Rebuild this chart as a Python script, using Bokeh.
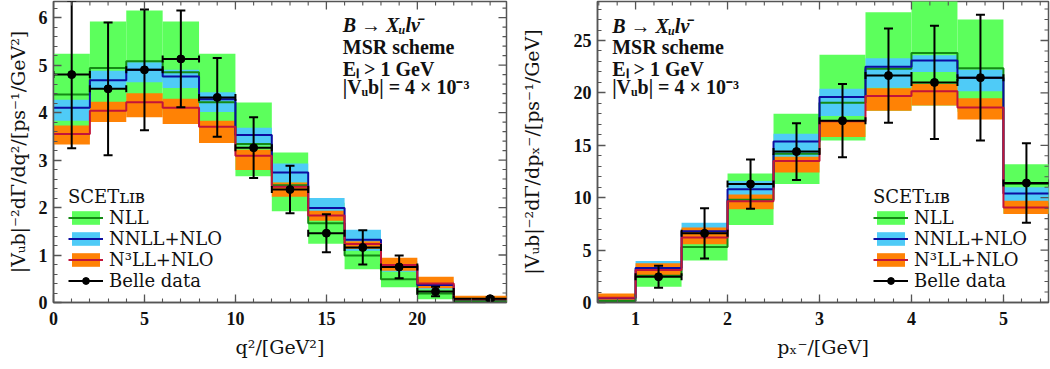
from bokeh.plotting import figure
from bokeh.layouts import row
from bokeh.models import (Range1d, LinearAxis, Legend, LegendItem, Label,
                          ColumnDataSource, SingleIntervalTicker)
from bokeh.embed import file_html
from bokeh.resources import INLINE
import math

# ---------------- data: q^2 spectrum ----------------
q2_edges = [0, 2, 4, 6, 8, 10, 12, 14, 16, 18, 20, 22, 26]
q2_nll_c = [4.38, 4.94, 5.08, 4.85, 4.22, 3.34, 2.47, 1.67, 0.99, 0.49, 0.19, 0.03]
q2_nll_lo = [3.45, 3.95, 4.05, 3.95, 3.40, 2.66, 1.92, 1.24, 0.70, 0.32, 0.07, 0.00]
q2_nll_hi = [5.24, 5.92, 6.15, 5.92, 5.24, 4.21, 3.16, 2.10, 1.30, 0.70, 0.32, 0.08]
q2_nnll_c = [4.10, 4.68, 4.90, 4.76, 4.28, 3.53, 2.74, 1.99, 1.32, 0.77, 0.37, 0.07]
q2_nnll_lo = [3.83, 4.50, 4.64, 4.52, 4.01, 3.31, 2.53, 1.75, 1.09, 0.65, 0.28, 0.03]
q2_nnll_hi = [4.27, 4.88, 5.06, 4.90, 4.43, 3.68, 2.93, 2.20, 1.53, 0.87, 0.45, 0.10]
q2_n3ll_c = [3.55, 4.04, 4.22, 4.10, 3.70, 3.09, 2.44, 1.83, 1.23, 0.79, 0.40, 0.07]
q2_n3ll_lo = [3.33, 3.80, 3.90, 3.76, 3.36, 2.79, 2.23, 1.72, 1.13, 0.67, 0.30, 0.02]
q2_n3ll_hi = [3.73, 4.23, 4.41, 4.29, 3.83, 3.22, 2.53, 1.93, 1.29, 0.94, 0.54, 0.14]
belle_q2_x = [1, 3, 5, 7, 9, 11, 13, 15, 17, 19, 21, 24]
belle_q2_xerr = [1, 1, 1, 1, 1, 1, 1, 1, 1, 1, 1, 2]
belle_q2_y = [4.80, 4.50, 4.90, 5.13, 4.32, 3.26, 2.38, 1.46, 1.16, 0.75, 0.23, 0.08]
belle_q2_err = [1.55, 1.40, 1.27, 1.02, 0.83, 0.64, 0.50, 0.40, 0.36, 0.24, 0.10, 0.03]

# ---------------- data: pX^- spectrum ----------------
px_edges = [0.5, 1.0, 1.5, 2.0, 2.5, 3.0, 3.5, 4.0, 4.5, 5.0, 5.5]
px_nll_c = [0.15, 2.55, 5.3, 9.8, 14.2, 19.05, 22.3, 23.8, 22.35, 11.3]
px_nll_lo = [0.0, 1.5, 4.0, 7.4, 11.3, 15.45, 18.3, 18.8, 18.2, 8.5]
px_nll_hi = [0.5, 3.4, 7.05, 12.3, 18.0, 23.65, 27.7, 29.5, 27.0, 13.2]
px_nnll_c = [0.4, 3.3, 6.8, 10.8, 15.35, 19.6, 22.5, 23.1, 21.45, 10.4]
px_nnll_lo = [0.2, 2.7, 5.9, 10.0, 13.9, 17.8, 20.5, 22.0, 20.15, 9.55]
px_nnll_hi = [0.7, 3.95, 7.6, 11.6, 16.1, 20.4, 23.3, 23.6, 22.2, 11.0]
px_n3ll_c = [0.45, 3.1, 6.2, 9.65, 13.5, 17.3, 19.7, 20.15, 18.6, 9.07]
px_n3ll_lo = [0.25, 2.6, 5.55, 8.9, 12.4, 15.8, 18.3, 18.8, 17.45, 8.45]
px_n3ll_hi = [0.85, 3.75, 7.15, 10.3, 13.9, 17.4, 20.45, 20.85, 19.5, 9.7]
belle_px_x = [1.25, 1.75, 2.25, 2.75, 3.25, 3.75, 4.25, 4.75, 5.25]
belle_px_xerr = [0.25] * 9
belle_px_y = [2.45, 6.6, 11.3, 14.4, 17.35, 21.65, 21.0, 21.45, 11.4]
belle_px_err = [1.05, 2.4, 2.35, 2.7, 3.5, 4.5, 5.4, 6.0, 3.8]

GREEN_BAND, BLUE_BAND, ORANGE_BAND = "#5cff5c", "#4fcbf7", "#ff8205"
GREEN_LINE, BLUE_LINE, RED_LINE = "#158a15", "#0d0da0", "#c2143a"
AX_COL = "#555555"
SERIF = "Liberation Serif"
LABEL_FONT = "DejaVu Serif"


def style_axis(ax):
    ax.major_tick_in = 8
    ax.major_tick_out = 0
    ax.minor_tick_in = 4
    ax.minor_tick_out = 0
    ax.axis_line_color = AX_COL
    ax.axis_line_width = 1.5
    ax.major_tick_line_color = AX_COL
    ax.minor_tick_line_color = AX_COL
    ax.major_tick_line_width = 1.3
    ax.minor_tick_line_width = 1.1
    ax.major_label_text_font = SERIF
    ax.major_label_text_font_style = "bold"
    ax.major_label_text_font_size = "18px"
    ax.major_label_text_color = "#111111"
    ax.major_label_standoff = 9
    ax.axis_label_text_font = LABEL_FONT
    ax.axis_label_text_font_style = "normal"
    ax.axis_label_text_font_size = "19px"
    ax.axis_label_text_color = "#111111"


def tick_values(lo, hi, step):
    n0 = int(math.ceil(lo / step - 1e-9))
    n1 = int(math.floor(hi / step + 1e-9))
    return [round(k * step, 6) for k in range(n0, n1 + 1)]


def mirror_ticks(p, xr, yr, xint, yint):
    xmaj = tick_values(xr[0], xr[1], xint)
    xmin = [v for v in tick_values(xr[0], xr[1], xint / 5) if v not in xmaj]
    ymaj = tick_values(yr[0], yr[1], yint)
    ymin = [v for v in tick_values(yr[0], yr[1], yint / 5) if v not in ymaj]
    # top edge ticks (vertical dashes centred on the edge; outer half clipped)
    p.scatter(x=xmaj, y=[yr[1]] * len(xmaj), marker="dash", size=16, angle=math.pi / 2,
              line_color=AX_COL, line_width=1.3)
    p.scatter(x=xmin, y=[yr[1]] * len(xmin), marker="dash", size=8, angle=math.pi / 2,
              line_color=AX_COL, line_width=1.1)
    # right edge ticks
    p.scatter(x=[xr[1]] * len(ymaj), y=ymaj, marker="dash", size=16,
              line_color=AX_COL, line_width=1.3)
    p.scatter(x=[xr[1]] * len(ymin), y=ymin, marker="dash", size=8,
              line_color=AX_COL, line_width=1.1)


def make_panel(edges, bands, bx, bxerr, by, byerr, xr, yr, xint, yint,
               xlabel, ylabel, ylab_standoff, width, bl, br, legend_xy,
               ann_x, ann_y):
    p = figure(width=width, height=369, x_range=Range1d(*xr), y_range=Range1d(*yr),
               output_backend="svg", toolbar_location=None,
               min_border_left=bl, min_border_right=br, min_border_top=1,
               min_border_bottom=67, x_axis_location=None, y_axis_location=None)
    p.xgrid.visible = False
    p.ygrid.visible = False
    p.outline_line_color = AX_COL
    p.outline_line_width = 1.5
    p.background_fill_color = "white"
    p.border_fill_color = "white"

    xb = LinearAxis(ticker=SingleIntervalTicker(interval=xint, num_minor_ticks=5),
                    axis_label=xlabel)
    style_axis(xb)
    xb.axis_label_standoff = 8
    p.add_layout(xb, "below")
    yl = LinearAxis(ticker=SingleIntervalTicker(interval=yint, num_minor_ticks=5),
                    axis_label=ylabel)
    style_axis(yl)
    yl.major_label_standoff = 6
    yl.axis_label_standoff = ylab_standoff
    p.add_layout(yl, "left")

    left = edges[:-1]
    right = edges[1:]
    quads = []
    for (c, lo, hi), col in zip(bands, [GREEN_BAND, BLUE_BAND, ORANGE_BAND]):
        q = p.quad(left=left, right=right, bottom=lo, top=hi, fill_color=col,
                   fill_alpha=1.0, line_color=None)
        quads.append(q)
    lines = []
    for (c, lo, hi), col in zip(bands, [GREEN_LINE, BLUE_LINE, RED_LINE]):
        ln = p.step(x=list(edges), y=list(c) + [c[-1]], mode="after",
                    line_color=col, line_width=2)
        lines.append(ln)

    src = ColumnDataSource(dict(
        x=bx, y=by,
        xl=[a - b for a, b in zip(bx, bxerr)], xh=[a + b for a, b in zip(bx, bxerr)],
        yl=[a - b for a, b in zip(by, byerr)], yh=[a + b for a, b in zip(by, byerr)]))
    hseg = p.segment(x0="xl", y0="y", x1="xh", y1="y", source=src,
                     line_color="black", line_width=2)
    p.segment(x0="x", y0="yl", x1="x", y1="yh", source=src,
              line_color="black", line_width=2)
    p.scatter(x="x", y="yl", source=src, marker="dash", size=9,
              line_color="black", line_width=2)
    p.scatter(x="x", y="yh", source=src, marker="dash", size=9,
              line_color="black", line_width=2)
    p.scatter(x="xl", y="y", source=src, marker="dash", size=7, angle=math.pi / 2,
              line_color="black", line_width=2)
    p.scatter(x="xh", y="y", source=src, marker="dash", size=7, angle=math.pi / 2,
              line_color="black", line_width=2)
    dots = p.scatter(x="x", y="y", source=src, marker="circle", size=8,
                     fill_color="black", line_color="black")

    mirror_ticks(p, xr, yr, xint, yint)

    legend = Legend(items=[
        LegendItem(label="NLL", renderers=[quads[0], lines[0]]),
        LegendItem(label="NNLL+NLO", renderers=[quads[1], lines[1]]),
        LegendItem(label="N³LL+NLO", renderers=[quads[2], lines[2]]),
        LegendItem(label="Belle data", renderers=[hseg, dots]),
    ], location=legend_xy)
    legend.title = "SCETʟɪʙ"
    legend.title_text_font = LABEL_FONT
    legend.title_text_font_size = "18px"
    legend.title_text_font_style = "normal"
    legend.title_text_color = "#111111"
    legend.title_standoff = 0
    legend.label_text_font = LABEL_FONT
    legend.label_text_font_size = "18px"
    legend.label_text_color = "#111111"
    legend.glyph_width = 35
    legend.glyph_height = 17
    legend.label_height = 17
    legend.spacing = 0
    legend.padding = 0
    legend.margin = 0
    legend.label_standoff = 6
    legend.background_fill_alpha = 0
    legend.border_line_alpha = 0
    p.add_layout(legend)

    texts = [("B → Xᵤlν̄", "bold italic"), ("MSR scheme", "bold"),
             ("Eₗ > 1 GeV", "bold"), ("|Vᵤb| = 4 × 10⁻³", "bold")]
    for (t, st), yy in zip(texts, ann_y):
        p.add_layout(Label(x=ann_x, y=yy, text=t, text_font=SERIF,
                           text_font_style=st, text_font_size="20px",
                           text_color="#111111", text_baseline="middle",
                           text_align="left"))
    return p


p1 = make_panel(q2_edges,
                [(q2_nll_c, q2_nll_lo, q2_nll_hi), (q2_nnll_c, q2_nnll_lo, q2_nnll_hi),
                 (q2_n3ll_c, q2_n3ll_lo, q2_n3ll_hi)],
                belle_q2_x, belle_q2_xerr, belle_q2_y, belle_q2_err,
                (0, 24.9), (0, 6.34), 5, 1,
                "q²/[GeV²]", "|Vᵤb|⁻²dΓ/dq²/[ps⁻¹/GeV²]", 7,
                515, 53, 9, (15, 11), 15.9, [5.84, 5.38, 4.92, 4.53])
p2 = make_panel(px_edges,
                [(px_nll_c, px_nll_lo, px_nll_hi), (px_nnll_c, px_nnll_lo, px_nnll_hi),
                 (px_n3ll_c, px_n3ll_lo, px_n3ll_hi)],
                belle_px_x, belle_px_xerr, belle_px_y, belle_px_err,
                (0.586, 5.49), (0, 28.72), 1, 5,
                "pₓ⁻/[GeV]", "|Vᵤb|⁻²dΓ/dpₓ⁻/[ps⁻¹/GeV]", 28,
                535, 82, 2, (276, 11), 0.746, [26.43, 24.35, 22.3, 20.53])

layout = row(p1, p2)
open("out.html", "w").write(file_html(layout, INLINE))
